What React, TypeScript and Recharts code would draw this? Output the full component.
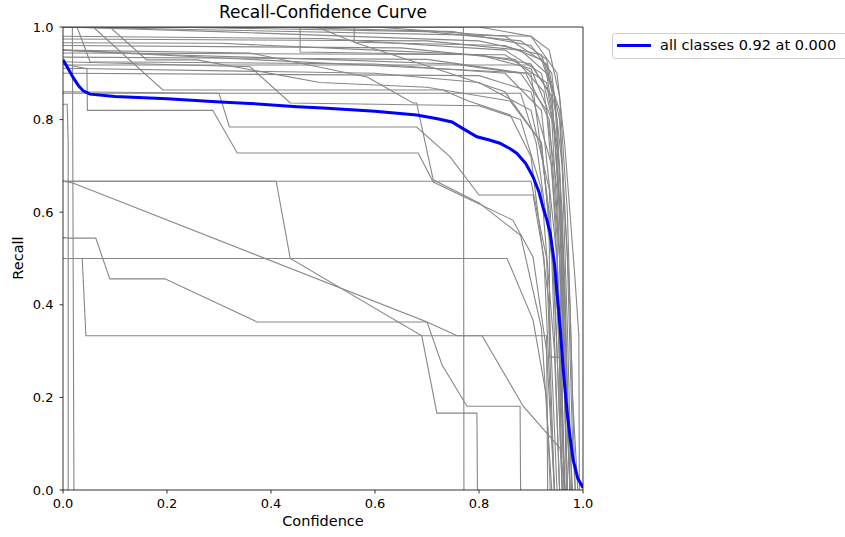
import { LineChart, Line, XAxis, YAxis, ReferenceLine } from 'recharts';

// Per-class recall curves: [confidence, recall]
const cls01 = [[0, 1], [0.058, 1], [0.192, 0.864], [0.73, 0.864], [0.78, 0.84], [0.86, 0.81], [0.9, 0.72], [0.935, 0.4], [0.95, 0]];
const cls02 = [[0, 1], [0.027, 1], [0.052, 0.925], [0.6, 0.92], [0.85, 0.9], [0.92, 0.82], [0.95, 0.5], [0.965, 0]];
const cls03 = [[0, 1], [0.09, 1], [0.161, 0.929], [0.258, 0.929], [0.494, 0.88], [0.7, 0.87], [0.86, 0.84], [0.92, 0.75], [0.945, 0.45], [0.96, 0]];
const cls04 = [[0, 1], [0.456, 1], [0.456, 0.946], [0.8, 0.94], [0.9, 0.91], [0.94, 0.8], [0.96, 0.4], [0.975, 0]];
const cls05 = [[0, 1], [0.488, 1], [0.565, 0.965], [0.744, 0.9], [0.85, 0.86], [0.92, 0.75], [0.95, 0.4], [0.965, 0]];
const cls06 = [[0, 1], [0.56, 1], [0.56, 0.967], [0.85, 0.96], [0.92, 0.93], [0.945, 0.85], [0.96, 0.6], [0.97, 0.2], [0.98, 0]];
const cls07 = [[0, 0.974], [0.7, 0.97], [0.88, 0.95], [0.93, 0.9], [0.95, 0.75], [0.96, 0.45], [0.97, 0]];
const cls08 = [[0, 0.966], [0.3, 0.965], [0.6, 0.95], [0.8, 0.94], [0.9, 0.92], [0.94, 0.85], [0.96, 0.55], [0.975, 0]];
const cls09 = [[0, 0.95], [0.36, 0.944], [0.585, 0.892], [0.673, 0.836], [0.68, 0.836], [0.712, 0.67], [0.8, 0.62], [0.88, 0.55], [0.92, 0.35], [0.94, 0]];
const cls10 = [[0, 0.944], [0.85, 0.94], [0.93, 0.88], [0.955, 0.7], [0.965, 0.3], [0.975, 0]];
const cls11 = [[0, 0.925], [0.36, 0.914], [0.437, 0.836], [0.8, 0.83], [0.88, 0.8], [0.92, 0.65], [0.945, 0.3], [0.955, 0]];
const cls12 = [[0, 0.918], [0.9, 0.918], [0.94, 0.85], [0.955, 0.6], [0.97, 0]];
const cls13 = [[0, 0.911], [0.6, 0.9], [0.8, 0.88], [0.9, 0.82], [0.935, 0.65], [0.95, 0.3], [0.96, 0]];
const cls14 = [[0, 0.857], [0.88, 0.857], [0.91, 0.75], [0.94, 0.5], [0.955, 0]];
const cls15 = [[0, 1], [0.2, 1], [0.7, 0.99], [0.88, 0.97], [0.93, 0.93], [0.955, 0.8], [0.97, 0.5], [0.98, 0.1], [0.985, 0]];
const cls16 = [[0, 1], [0.8, 1], [0.9, 0.98], [0.935, 0.95], [0.955, 0.85], [0.97, 0.6], [0.98, 0.2], [0.99, 0]];
const cls17 = [[0, 1], [0.6, 1], [0.85, 0.98], [0.93, 0.92], [0.95, 0.8], [0.965, 0.45], [0.975, 0]];
const cls18 = [[0, 0.95], [0.2, 0.94], [0.5, 0.93], [0.75, 0.92], [0.88, 0.9], [0.93, 0.82], [0.95, 0.55], [0.96, 0]];
const cls19 = [[0, 0.92], [0.046, 0.91], [0.047, 0.82], [0.288, 0.82], [0.335, 0.728], [0.683, 0.728], [0.712, 0.665], [0.865, 0.583], [0.904, 0.503], [0.93, 0.3], [0.945, 0]];
const cls20 = [[0, 0.86], [0.3, 0.857], [0.32, 0.784], [0.68, 0.784], [0.744, 0.72], [0.8, 0.637], [0.904, 0.637], [0.925, 0.5], [0.945, 0]];
const cls21 = [[0, 0.667], [0.9, 0.667], [0.93, 0.5], [0.945, 0]];
const cls22 = [[0, 0.667], [0.019, 0.663], [0.7, 0.363], [0.729, 0.27], [0.777, 0.181], [0.879, 0.181], [0.88, 0]];
const cls23 = [[0, 0.545], [0.013, 0.544], [0.063, 0.544], [0.09, 0.456], [0.196, 0.456], [0.373, 0.363], [0.7, 0.363], [0.758, 0.333], [0.806, 0.333], [0.885, 0.181], [0.956, 0.09], [0.965, 0]];
const cls24 = [[0, 0.5], [0.037, 0.5], [0.044, 0.333], [0.93, 0.333], [0.932, 0]];
const cls25 = [[0, 0.667], [0.41, 0.667], [0.437, 0.5], [0.69, 0.333], [0.719, 0.166], [0.796, 0.166], [0.797, 0]];
const cls26 = [[0, 0.5], [0.854, 0.5], [0.904, 0.367], [0.93, 0.2], [0.937, 0]];
const cls27 = [[0, 1], [0.77, 1], [0.771, 0]];
const cls28 = [[0, 0.95], [0.9, 0.9], [0.935, 0.6], [0.936, 0.287], [0.955, 0.287], [0.956, 0.14], [0.96, 0.14], [0.965, 0]];
const cls29 = [[0, 1], [0.9, 0.98], [0.95, 0.9], [0.965, 0.745], [0.985, 0.45], [0.992, 0.333], [0.993, 0]];
const cls30 = [[0, 0.833], [0.008, 0.833], [0.01, 0.75], [0.01, 0]];
const cls31 = [[0, 1], [0.018, 1], [0.021, 0]];
const cls32 = [[0, 1], [0.4, 1], [0.75, 0.99], [0.9, 0.96], [0.94, 0.9], [0.96, 0.7], [0.97, 0.35], [0.978, 0]];
const cls33 = [[0, 0.98], [0.5, 0.975], [0.85, 0.95], [0.92, 0.9], [0.945, 0.78], [0.96, 0.5], [0.968, 0]];
const cls34 = [[0, 0.96], [0.65, 0.955], [0.87, 0.93], [0.925, 0.86], [0.95, 0.65], [0.962, 0.3], [0.97, 0]];
const cls35 = [[0, 0.935], [0.7, 0.93], [0.89, 0.9], [0.935, 0.8], [0.955, 0.5], [0.963, 0]];
const cls36 = [[0, 0.9], [0.8, 0.895], [0.9, 0.86], [0.94, 0.7], [0.957, 0.35], [0.965, 0]];
const cls37 = [[0, 1], [0.3, 0.99], [0.8, 0.97], [0.92, 0.94], [0.955, 0.82], [0.975, 0.4], [0.985, 0]];

const classCurves = [
  cls01, cls02, cls03, cls04, cls05, cls06, cls07, cls08, cls09, cls10,
  cls11, cls12, cls13, cls14, cls15, cls16, cls17, cls18, cls19, cls20,
  cls21, cls22, cls23, cls24, cls25, cls26, cls27, cls28, cls29, cls30,
  cls31, cls32, cls33, cls34, cls35, cls36, cls37,
];

// all classes mean curve
const allClasses = [
  [0, 0.929], [0.01, 0.91], [0.02, 0.89], [0.03, 0.873], [0.039, 0.862], [0.052, 0.855],
  [0.1, 0.85], [0.2, 0.845], [0.302, 0.838], [0.36, 0.835], [0.45, 0.828], [0.5, 0.825],
  [0.6, 0.818], [0.68, 0.81], [0.72, 0.802], [0.748, 0.795], [0.77, 0.78], [0.796, 0.763],
  [0.82, 0.756], [0.84, 0.749], [0.86, 0.737], [0.873, 0.727], [0.89, 0.705], [0.904, 0.676],
  [0.915, 0.645], [0.923, 0.611], [0.93, 0.585], [0.937, 0.555], [0.946, 0.482], [0.95, 0.425],
  [0.956, 0.352], [0.962, 0.26], [0.969, 0.173], [0.975, 0.115], [0.981, 0.065], [0.99, 0.025],
  [1.0, 0.005],
];

const ticks = [0, 0.2, 0.4, 0.6, 0.8, 1.0];

const toPoints = (arr: number[][]) => arr.map(([c, r]) => ({ c, r }));

const FONT = '"DejaVu Sans", sans-serif';
const tickStyle = { fill: '#000', fontSize: 13, fontFamily: FONT };

export default function App() {
  return (
    <div style={{ position: 'absolute', left: 0, top: 0, width: 845, height: 537, background: '#fff', overflow: 'hidden', fontFamily: FONT }}>
      <LineChart width={845} height={537} margin={{ top: 27, right: 262, left: 0, bottom: 0 }}>
        <XAxis
          type="number"
          dataKey="c"
          domain={[0, 1]}
          ticks={ticks}
          tickFormatter={(v: number) => v.toFixed(1)}
          height={47}
          tick={tickStyle}
          tickSize={3.5}
          tickMargin={5}
          axisLine={{ stroke: '#000', strokeWidth: 0.8 }}
          tickLine={{ stroke: '#000', strokeWidth: 0.8 }}
          allowDataOverflow
        />
        <YAxis
          type="number"
          domain={[0, 1]}
          ticks={ticks}
          tickFormatter={(v: number) => v.toFixed(1)}
          width={63}
          tick={tickStyle}
          tickSize={3.5}
          tickMargin={6}
          axisLine={{ stroke: '#000', strokeWidth: 0.8 }}
          tickLine={{ stroke: '#000', strokeWidth: 0.8 }}
          allowDataOverflow
        />
        {classCurves.map((curve, i) => (
          <Line
            key={i}
            data={toPoints(curve)}
            dataKey="r"
            type="linear"
            stroke="#878787"
            strokeWidth={1.1}
            dot={false}
            activeDot={false}
            isAnimationActive={false}
          />
        ))}
        <Line
          data={toPoints(allClasses)}
          dataKey="r"
          type="linear"
          stroke="#0000ff"
          strokeWidth={3}
          dot={false}
          activeDot={false}
          isAnimationActive={false}
        />
        <ReferenceLine y={1} stroke="#000" strokeWidth={0.8} />
        <ReferenceLine x={1} stroke="#000" strokeWidth={0.8} />
      </LineChart>

      <div style={{ position: 'absolute', left: 0, width: 646, top: 2, textAlign: 'center', fontSize: 17, color: '#000' }}>
        Recall-Confidence Curve
      </div>
      <div style={{ position: 'absolute', left: 63, width: 520, top: 513, textAlign: 'center', fontSize: 14.5, color: '#000' }}>
        Confidence
      </div>
      <div style={{ position: 'absolute', left: 18, top: 258, transform: 'translate(-50%, -50%) rotate(-90deg)', fontSize: 14.5, color: '#000', whiteSpace: 'nowrap' }}>
        Recall
      </div>

      <div style={{ position: 'absolute', left: 612, top: 33, width: 250, height: 26, border: '1px solid #d0d0d0', borderRadius: 3, background: '#fff', boxSizing: 'border-box' }}>
        <div style={{ position: 'absolute', left: 4, top: 10, width: 34, height: 3, background: '#0000ff' }} />
        <div style={{ position: 'absolute', left: 47, top: 3, fontSize: 14.5, color: '#000', whiteSpace: 'nowrap' }}>
          all classes 0.92 at 0.000
        </div>
      </div>
    </div>
  );
}
